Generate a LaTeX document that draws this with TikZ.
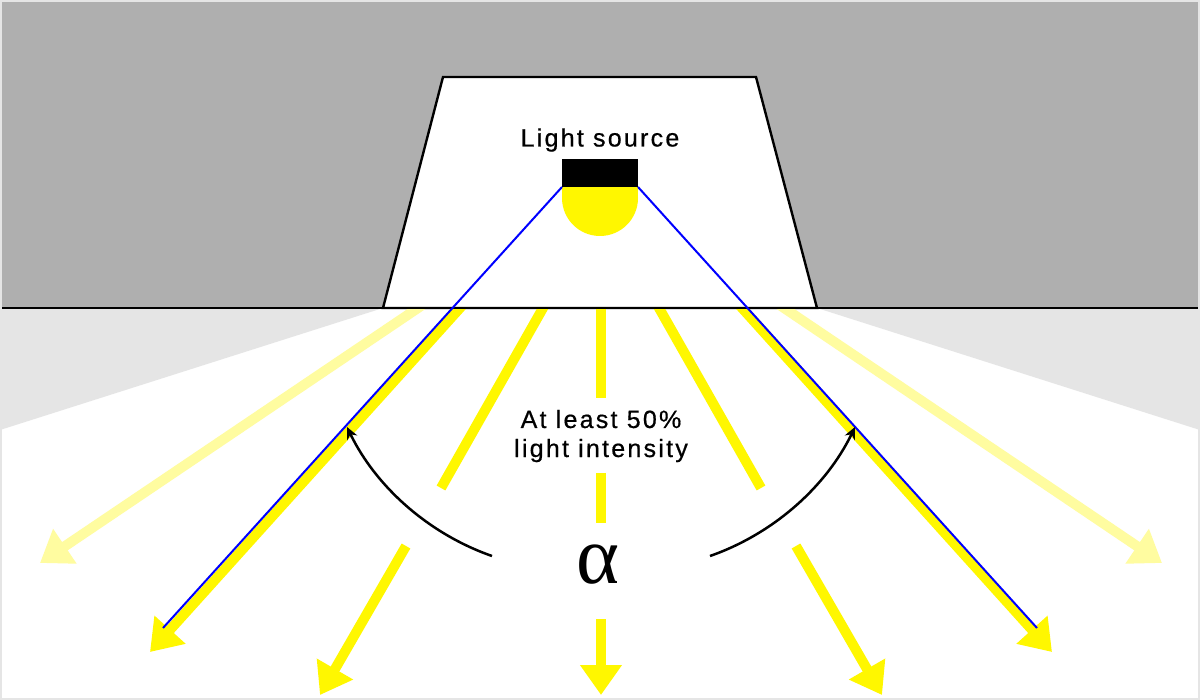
\documentclass[tikz,border=0pt]{standalone}
\usepackage{fontspec}
\usetikzlibrary{arrows.meta}
\newfontfamily\labelfont{Liberation Sans}[LetterSpace=9,FakeBold=0.6]
\newfontfamily\greekfont{Liberation Serif}
\definecolor{topgray}{RGB}{175,175,175}
\definecolor{lightgray}{RGB}{229,229,229}
\definecolor{yel}{RGB}{255,247,0}
\definecolor{faint}{RGB}{255,252,160}
\definecolor{rayblue}{RGB}{0,0,255}
\begin{document}
\begin{tikzpicture}[x=1pt,y=-1pt,
  ray/.style={line width=10pt, draw=yel, shorten <=-12pt},
  rayarrow/.style={ray, -{Triangle[length=30pt,width=40pt]}},
  faintray/.style={rayarrow, draw=faint},
  edge/.style={line width=2.4pt, draw=black},
  blueline/.style={line width=2pt, draw=rayblue},
  anglearc/.style={line width=2.5pt, draw=black, -{Stealth[length=12pt,width=11pt]}},
  label/.style={font=\labelfont\fontsize{25}{29}\selectfont, inner sep=0pt, anchor=base}
]
\useasboundingbox (0,0) rectangle (1200,700);
% backgrounds
\fill[topgray] (0,0) rectangle (1200,308);
\fill[white] (0,308) rectangle (1200,700);
\fill[lightgray] (0,308) -- (383,308) -- (0,430) -- cycle;
\fill[lightgray] (1200,308) -- (817,308) -- (1200,430) -- cycle;
% housing
\filldraw[fill=white, edge, line join=miter] (383,308) -- (443,77) -- (756,77) -- (817,308) -- cycle;
% lamp
\coordinate (lampL) at (562,187);
\coordinate (lampR) at (638,187);
\fill[yel] (600,198) circle[radius=38pt];
\fill[yel] (562,186) rectangle (638,198);
\fill[black] (562,159) rectangle (638,187);
\node[label] (src) at (600,146.5) {Light source};
% rays
\begin{scope}
\clip (0,308) rectangle (1200,700);
\coordinate (fl0) at (418,308); \coordinate (fl1) at (40,563);
\coordinate (fr0) at (784,308); \coordinate (fr1) at (1162,563);
\draw[faintray] (fl0) -- (fl1);
\draw[faintray] (fr0) -- (fr1);
\coordinate (ml0) at (460,308); \coordinate (ml1) at (150,652);
\coordinate (mr0) at (742,308); \coordinate (mr1) at (1052,652);
\draw[rayarrow] (ml0) -- (ml1);
\draw[rayarrow] (mr0) -- (mr1);
\coordinate (il0) at (543,308); \coordinate (il1) at (441,488);
\coordinate (il2) at (406,546); \coordinate (il3) at (320,695);
\coordinate (ir0) at (659,308); \coordinate (ir1) at (761,488);
\coordinate (ir2) at (796,546); \coordinate (ir3) at (882,695);
\draw[ray] (il0) -- (il1);
\draw[rayarrow, shorten <=0pt] (il2) -- (il3);
\draw[ray] (ir0) -- (ir1);
\draw[rayarrow, shorten <=0pt] (ir2) -- (ir3);
\coordinate (c0) at (601,308); \coordinate (c1) at (601,398);
\coordinate (c2) at (601,473); \coordinate (c3) at (601,523);
\coordinate (c4) at (601,619); \coordinate (c5) at (601,695);
\draw[ray] (c0) -- (c1);
\draw[ray, shorten <=0pt] (c2) -- (c3);
\draw[rayarrow, shorten <=0pt] (c4) -- (c5);
\end{scope}
% floor line
\draw[line width=2.8pt] (0,308) -- (1200,308);
% beam edges
\coordinate (bl) at (163,628);
\coordinate (br) at (1037,628);
\draw[blueline] (lampL) -- (bl);
\draw[blueline] (lampR) -- (br);
% angle arcs
\coordinate (al0) at (492,556); \coordinate (al1) at (347,427);
\coordinate (ar0) at (710,556); \coordinate (ar1) at (855,427);
\draw[anglearc] (al0) .. controls (429,534) and (376,487) .. (al1);
\draw[anglearc] (ar0) .. controls (773,534) and (826,487) .. (ar1);
% labels
\node[label] (t1) at (601,428) {At least 50\%};
\node[label] (t2) at (601,457) {light intensity};
\node[inner sep=0pt, anchor=base] (alpha) at (598,583) {\greekfont\fontsize{82}{82}\selectfont α};
% frame
\draw[lightgray, line width=2pt] (1,1) rectangle (1199,699);
\end{tikzpicture}
\end{document}
